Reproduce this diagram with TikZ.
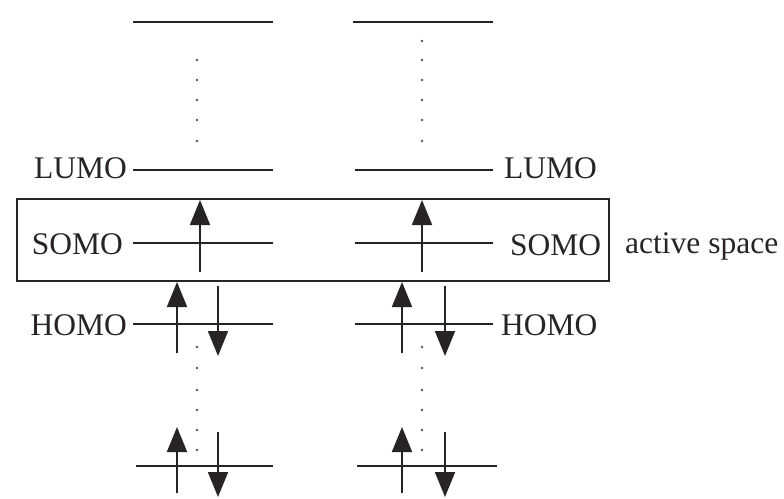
\documentclass[tikz,border=0pt]{standalone}
\usepackage{fontspec}
\setmainfont{Liberation Serif}
\usetikzlibrary{arrows.meta}
\definecolor{ink}{RGB}{40,36,36}
\begin{document}
\begin{tikzpicture}[x=1pt,y=-1pt,
  level/.style={draw=ink,line width=2pt},
  spin/.style={draw=ink,line width=1.8pt,-{Triangle[width=20pt,length=25pt]},fill=ink},
  lbl/.style={font=\fontsize{31.5}{32}\selectfont,text=ink,inner sep=0pt},
  dotmark/.style={fill=ink!80,draw=none},
  boxst/.style={draw=ink,line width=1.8pt}]
\useasboundingbox[fill=white] (0,0) rectangle (784,498);
% level end points
\foreach \n/\xa/\xb/\y in {lt/133/273/22, rt/353/493/22,
  ll/133/273/170, rl/355/493/170,
  ls/133/273/243, rs/355/493/243,
  lh/133/273/324, rh/355/493/324,
  lb/136/273/466, rb/357/497/466}{
  \coordinate (\n a) at (\xa,\y);
  \coordinate (\n b) at (\xb,\y);
  \draw[level] (\n a) -- (\n b);
}
% active space box
\node[boxst,minimum width=592pt,minimum height=82pt,anchor=north west,inner sep=0pt] (box) at (16,198) {};
% labels
\node[lbl,anchor=base east] (lumoL) at (127,178) {LUMO};
\node[lbl,anchor=base west] (lumoR) at (504,178) {LUMO};
\node[lbl,anchor=base east] (somoL) at (123,254) {SOMO};
\node[lbl,anchor=base west] (somoR) at (510,255) {SOMO};
\node[lbl,anchor=base east] (homoL) at (127,335) {HOMO};
\node[lbl,anchor=base west] (homoR) at (501,335) {HOMO};
\node[lbl,anchor=base west] (act) at (625,253) {active space};
% dots
\foreach \y in {60,80,100,120,141}{\fill[dotmark] (197,\y) circle (1.3pt);}
\foreach \y in {41,60,80,100,120,141}{\fill[dotmark] (422,\y) circle (1.3pt);}
\foreach \y in {347,368,390,410,430,450}{\fill[dotmark] (197,\y) circle (1.3pt); \fill[dotmark] (422,\y) circle (1.3pt);}
% spins: SOMO
\coordinate (s1a) at (200,272); \coordinate (s1b) at (200,200);
\coordinate (s2a) at (422,272); \coordinate (s2b) at (422,200);
\draw[spin] (s1a) -- (s1b);
\draw[spin] (s2a) -- (s2b);
% HOMO pairs
\foreach \xu/\xd/\n in {177/218/l, 402/445/r}{
  \coordinate (hu\n a) at (\xu,353); \coordinate (hu\n b) at (\xu,282);
  \coordinate (hd\n a) at (\xd,286); \coordinate (hd\n b) at (\xd,356);
  \draw[spin] (hu\n a) -- (hu\n b);
  \draw[spin] (hd\n a) -- (hd\n b);
  \coordinate (bu\n a) at (\xu,493); \coordinate (bu\n b) at (\xu,427);
  \coordinate (bd\n a) at (\xd,432); \coordinate (bd\n b) at (\xd,497);
  \draw[spin] (bu\n a) -- (bu\n b);
  \draw[spin] (bd\n a) -- (bd\n b);
}
\end{tikzpicture}
\end{document}
